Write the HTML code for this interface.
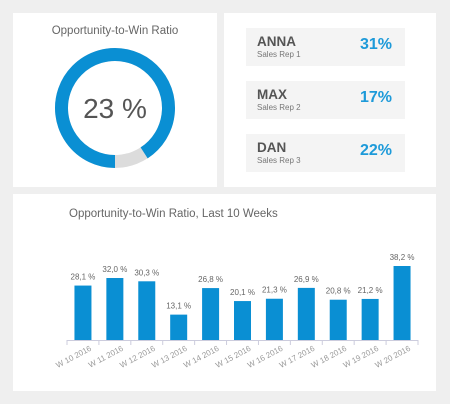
<!DOCTYPE html>
<html><head><meta charset="utf-8"><style>
body{margin:0;width:450px;height:404px;background:#efefef;font-family:"Liberation Sans",sans-serif;position:relative;overflow:hidden}
.card{position:absolute;background:#fff}
.rep{position:absolute;left:246px;width:159px;height:38px;background:#f4f4f4}
.rep .n{position:absolute;left:11px;top:6px;font-size:13.5px;color:#555;font-weight:600}
.rep .s{position:absolute;left:11px;top:22px;font-size:8px;color:#777}
.rep .v{position:absolute;right:13px;top:8px;font-size:16px;color:#1d9ad9;font-weight:bold}
</style></head><body>
<div class="card" style="left:13px;top:13px;width:204px;height:174px"></div>
<div class="card" style="left:224px;top:13px;width:212px;height:174px"></div>
<div class="card" style="left:13px;top:194px;width:423px;height:197px"></div>
<div style="position:absolute;left:13px;width:204px;top:25px;text-align:center;font-size:11.5px;color:#666">Opportunity-to-Win Ratio</div>
<svg style="position:absolute;left:0;top:0" width="230" height="190">
<circle cx="115" cy="108" r="53.5" fill="none" stroke="#dcdcdc" stroke-width="13"/>
<path id="arc" fill="none" stroke="#0a8fd3" stroke-width="13"/>
<text x="115" y="118" text-anchor="middle" font-size="28" fill="#555" font-family="Liberation Sans">23 %</text>
</svg>
<div class="rep" style="top:28px"><span class="n">ANNA</span><span class="s">Sales Rep 1</span><span class="v">31%</span></div>
<div class="rep" style="top:81px"><span class="n">MAX</span><span class="s">Sales Rep 2</span><span class="v">17%</span></div>
<div class="rep" style="top:134px"><span class="n">DAN</span><span class="s">Sales Rep 3</span><span class="v">22%</span></div>
<div style="position:absolute;left:69px;top:208px;font-size:11.5px;color:#666">Opportunity-to-Win Ratio, Last 10 Weeks</div>
<svg id="bars" style="position:absolute;left:0;top:0" width="450" height="404"></svg>
<script>
const categories=["W 10 2016","W 11 2016","W 12 2016","W 13 2016","W 14 2016","W 15 2016","W 16 2016","W 17 2016","W 18 2016","W 19 2016","W 20 2016"];
const values=[28.1,32.0,30.3,13.1,26.8,20.1,21.3,26.9,20.8,21.2,38.2];
const valueLabels=["28,1 %","32,0 %","30,3 %","13,1 %","26,8 %","20,1 %","21,3 %","26,9 %","20,8 %","21,2 %","38,2 %"];
const donutEnd=327;
(function(){
  const a=document.getElementById('arc');const cx=115,cy=108,r=53.5;
  const e=donutEnd*Math.PI/180;
  const p=t=>[cx+r*Math.sin(t+Math.PI),cy-r*Math.cos(t+Math.PI)];
  const [x1,y1]=p(0),[x2,y2]=p(e);
  a.setAttribute('d',`M${x1} ${y1} A${r} ${r} 0 1 1 ${x2} ${y2}`);
})();
const svg=document.getElementById('bars');const NS="http://www.w3.org/2000/svg";
const x0=67,x1=418,base=340,scale=74/38.2,bw=17;
const step=(x1-x0)/categories.length;
const xs=i=>x0+step*(i+0.5), ys=v=>base-v*scale;
function mk(t,at){const e=document.createElementNS(NS,t);for(const k in at)e.setAttribute(k,at[k]);svg.appendChild(e);return e;}
const ax=mk('line',{x1:x0,x2:x1,y1:base+0.5,y2:base+0.5,stroke:'#ccd',"stroke-width":1});


for(let i=0;i<=categories.length;i++){const t=mk('line',{x1:x0+step*i,x2:x0+step*i,y1:base,y2:base+5,stroke:'#ccd'});

}
values.forEach((v,i)=>{
  const b=mk('rect',{x:xs(i)-bw/2,y:ys(v),width:bw,height:base-ys(v),fill:'#0a8fd3'});
  
  
  const l=mk('text',{x:xs(i),y:ys(v)-6,"text-anchor":"middle","font-size":8,fill:'#666',"font-family":"Liberation Sans"});l.textContent=valueLabels[i];
  
  
  const lx=xs(i)+9, ly=base+10;
  const c=mk('text',{x:lx,y:ly,"text-anchor":"end","font-size":8,fill:'#999',"font-family":"Liberation Sans",transform:`rotate(-28 ${lx} ${ly})`});c.textContent=categories[i];
  
  
});
</script>
</body></html>
